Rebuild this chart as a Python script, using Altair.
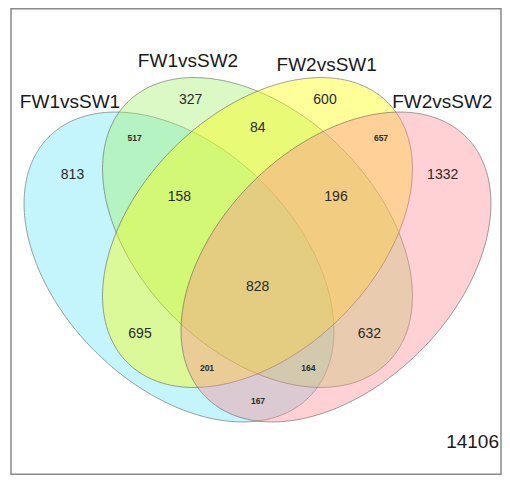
import altair as alt
import numpy as np
import pandas as pd

# ---- data -------------------------------------------------------------
set_names = ["FW1vsSW1", "FW1vsSW2", "FW2vsSW1", "FW2vsSW2"]
region_counts = [813, 327, 600, 1332, 517, 84, 657, 158, 196, 828,
                 695, 632, 201, 164, 167]
outside_count = 14106

# ---- layout (reference pixel coordinates) -----------------------------
region_x = [72.5, 190.7, 325, 442.7, 134.7, 257.7, 381, 179.3, 336, 257.7,
            140, 369.3, 207, 308.3, 258]
region_y = [175, 100, 100, 175, 137.7, 127.7, 137.7, 197.3, 197.3, 286.7,
            334, 334, 368, 368, 401]
region_small = [False, False, False, False, True, False, True, False, False,
                False, False, False, True, True, True]
set_label_x = [70, 188, 326.7, 442.3]
set_label_y = [101.7, 61, 65, 101.7]
outside_xy = (499, 441.7)

ell_cx = [179, 257.5, 257.5, 336]
ell_cy = [267, 232.5, 232.5, 267]
ell_theta = [45, 45, -45, -45]
ell_a, ell_b = 184.0, 119.0
set_colors = ["#6BE6F7", "#A2F06B", "#FFFF03", "#FF8993"]

W, H = 494, 467
OFF = 8
xs = alt.Scale(domain=[OFF, OFF + W], nice=False, zero=False)
ys = alt.Scale(domain=[OFF, OFF + H], nice=False, zero=False, reverse=True)


def ellipse_band(cx, cy, theta_deg, a, b, n=300):
    t = np.radians(theta_deg)
    c, s = np.cos(t), np.sin(t)
    hw = np.sqrt(a * a * c * c + b * b * s * s)
    k = np.arange(n + 1)
    dx = -hw * np.cos(np.pi * k / n)
    A = s * s / a ** 2 + c * c / b ** 2
    B = 2 * dx * (c * s / a ** 2 - c * s / b ** 2)
    C = dx * dx * (c * c / a ** 2 + s * s / b ** 2) - 1
    disc = np.clip(B * B - 4 * A * C, 0, None)
    r1 = (-B - np.sqrt(disc)) / (2 * A)
    r2 = (-B + np.sqrt(disc)) / (2 * A)
    return pd.DataFrame({"x": cx + dx, "y": cy + r1, "y2": cy + r2})


layers = []
for i in range(4):
    df = ellipse_band(ell_cx[i], ell_cy[i], ell_theta[i], ell_a, ell_b)
    layers.append(
        alt.Chart(df).mark_area(
            orient="vertical", fill=set_colors[i], fillOpacity=0.4,
            stroke="#555555", strokeWidth=0.8, strokeOpacity=0.7,
            interpolate="linear"
        ).encode(
            x=alt.X("x:Q", scale=xs, axis=None),
            y=alt.Y("y:Q", scale=ys, axis=None),
            y2="y2:Q",
        )
    )

# frame
frame_df = pd.DataFrame({"x": [11], "x2": [501], "y": [8.8], "y2": [474.2]})
layers.append(
    alt.Chart(frame_df).mark_rect(fill=None, stroke="#8a8a8a", strokeWidth=1.5).encode(
        x=alt.X("x:Q", scale=xs, axis=None), x2="x2:Q",
        y=alt.Y("y:Q", scale=ys, axis=None), y2="y2:Q",
    )
)

reg_df = pd.DataFrame({"label": [str(v) for v in region_counts],
                       "x": region_x, "y": region_y, "small": region_small})
big = reg_df[~reg_df["small"]]
small = reg_df[reg_df["small"]]

layers.append(
    alt.Chart(big).mark_text(font="Liberation Sans", fontSize=14, color="#2a2a2a",
                             baseline="middle", align="center").encode(
        x=alt.X("x:Q", scale=xs, axis=None), y=alt.Y("y:Q", scale=ys, axis=None),
        text="label:N")
)
layers.append(
    alt.Chart(small).mark_text(font="Liberation Sans", fontSize=8.5, fontWeight="bold",
                               color="#2a2a2a", baseline="middle", align="center").encode(
        x=alt.X("x:Q", scale=xs, axis=None), y=alt.Y("y:Q", scale=ys, axis=None),
        text="label:N")
)

lab_df = pd.DataFrame({"label": set_names, "x": set_label_x, "y": set_label_y})
layers.append(
    alt.Chart(lab_df).mark_text(font="Liberation Sans", fontSize=19, color="#1a1a1a",
                                baseline="middle", align="center").encode(
        x=alt.X("x:Q", scale=xs, axis=None), y=alt.Y("y:Q", scale=ys, axis=None),
        text="label:N")
)

out_df = pd.DataFrame({"label": [str(outside_count)], "x": [outside_xy[0]], "y": [outside_xy[1]]})
layers.append(
    alt.Chart(out_df).mark_text(font="Liberation Sans", fontSize=19, color="#1a1a1a",
                                baseline="middle", align="right").encode(
        x=alt.X("x:Q", scale=xs, axis=None), y=alt.Y("y:Q", scale=ys, axis=None),
        text="label:N")
)

chart = alt.layer(*layers).properties(
    width=W, height=H, padding=0, autosize=alt.AutoSizeParams(type="none"),
    background="white"
).configure_view(stroke=None)

chart.save("out.html", embed_options={"renderer": "svg", "actions": False})
